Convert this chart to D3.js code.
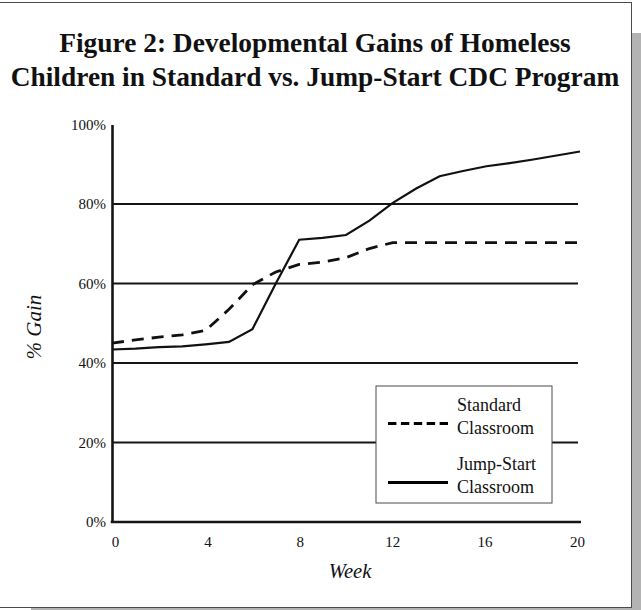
<!DOCTYPE html>
<html>
<head>
<meta charset="utf-8">
<script src="https://cdn.jsdelivr.net/npm/d3@7"></script>
<style>
  html, body { margin: 0; padding: 0; background: #ffffff; }
  svg { display: block; }
  text { font-family: "Liberation Serif", "Times New Roman", serif; fill: #111; }
</style>
</head>
<body>
<svg id="chart" width="641" height="610"></svg>
<script>
// Week numbers on the horizontal axis
const weeks = [0, 1, 2, 3, 4, 5, 6, 7, 8, 9, 10, 11, 12, 13, 14, 15, 16, 17, 18, 19, 20];
// % gain, standard CDC classroom
const standard = [45.0, 45.8, 46.5, 47.1, 48.2, 53.5, 59.7, 62.9, 64.8, 65.4, 66.5, 68.8, 70.3, 70.3, 70.3, 70.3, 70.3, 70.3, 70.3, 70.3, 70.3];
// % gain, Jump-Start classroom
const jumpStart = [43.4, 43.6, 44.0, 44.2, 44.7, 45.3, 48.5, 60.0, 71.0, 71.5, 72.2, 75.8, 80.3, 83.9, 87.0, 88.3, 89.5, 90.3, 91.2, 92.2, 93.2];
// Axis ticks
const xTicks = [0, 4, 8, 12, 16, 20];
const yTicks = [0, 20, 40, 60, 80, 100];
const gridValues = [20, 40, 60, 80];
const titleLines = ["Figure 2: Developmental Gains of Homeless", "Children in Standard vs. Jump-Start CDC Program"];
const legendItems = [
  { lines: ["Standard", "Classroom"], dash: "8.4,4.5" },
  { lines: ["Jump-Start", "Classroom"], dash: null }
];

const svg = d3.select("#chart");

// Page frame with drop shadow
svg.append("rect").attr("x", 31).attr("y", 33).attr("width", 640).attr("height", 600).attr("fill", "#b3b3b3");
svg.append("rect").attr("x", -1).attr("y", 2.5).attr("width", 632.5).attr("height", 605)
  .attr("fill", "#ffffff").attr("stroke", "#4a4a4a").attr("stroke-width", 1);

// Title
svg.append("g").selectAll("text").data(titleLines).join("text")
  .attr("x", 315).attr("y", (d, i) => 52 + i * 33.5)
  .attr("text-anchor", "middle")
  .attr("font-weight", "bold").attr("font-size", 27.4)
  .text(d => d);

// Scales
const x = d3.scaleLinear().domain([0, 20]).range([112, 580]);
const xLabel = d3.scaleLinear().domain([0, 20]).range([115, 577]);
const y = d3.scaleLinear().domain([0, 100]).range([522, 124.5]);

// Horizontal gridlines
svg.append("g").selectAll("line").data(gridValues).join("line")
  .attr("x1", x(0)).attr("x2", 578)
  .attr("y1", d => y(d)).attr("y2", d => y(d))
  .attr("stroke", "#151515").attr("stroke-width", 2.2);

// Axes
const yAxis = svg.append("g").attr("transform", `translate(${x(0)},0)`)
  .call(d3.axisLeft(y).tickValues(yTicks).tickSize(0).tickPadding(6).tickFormat(d => d + "%"));
yAxis.select(".domain").attr("stroke", "#151515").attr("stroke-width", 2.6);
yAxis.selectAll("text").attr("font-size", 15).attr("font-family", "Liberation Serif, serif").attr("fill", "#111").attr("dy", "0.32em");

const xAxis = svg.append("g").attr("transform", `translate(0,${y(0)})`)
  .call(d3.axisBottom(xLabel).tickValues(xTicks).tickSize(0).tickPadding(14).tickFormat(d3.format("d")));
xAxis.select(".domain").remove();
xAxis.selectAll("text").attr("font-size", 15).attr("font-family", "Liberation Serif, serif").attr("fill", "#111");
svg.append("line").attr("x1", x(0) - 1.3).attr("x2", 581)
  .attr("y1", y(0)).attr("y2", y(0))
  .attr("stroke", "#151515").attr("stroke-width", 2.6);

// Axis titles
svg.append("text").attr("x", 350).attr("y", 578).attr("text-anchor", "middle")
  .attr("font-style", "italic").attr("font-size", 20.5).text("Week");
svg.append("text").attr("transform", "translate(41,327) rotate(-90)").attr("text-anchor", "middle")
  .attr("font-style", "italic").attr("font-size", 21).text("% Gain");

// Data lines
const line = d3.line().x(d => x(d[0])).y(d => y(d[1]));
svg.append("path").datum(weeks.map((w, i) => [w, standard[i]]))
  .attr("d", line).attr("fill", "none").attr("stroke", "#111")
  .attr("stroke-width", 2.8).attr("stroke-dasharray", "12,8");
svg.append("path").datum(weeks.map((w, i) => [w, jumpStart[i]]))
  .attr("d", line).attr("fill", "none").attr("stroke", "#111")
  .attr("stroke-width", 2.2);

// Legend
const legend = svg.append("g");
legend.append("rect").attr("x", 376).attr("y", 386).attr("width", 176).attr("height", 117)
  .attr("fill", "#ffffff").attr("stroke", "#4a4a4a").attr("stroke-width", 1);
const items = legend.selectAll("g.item").data(legendItems).join("g").attr("class", "item")
  .attr("transform", (d, i) => `translate(0,${i * 59})`);
items.append("line").attr("x1", 388).attr("x2", 448).attr("y1", 423.5).attr("y2", 423.5)
  .attr("stroke", "#000").attr("stroke-width", 3.2)
  .attr("stroke-dasharray", d => d.dash);
items.each(function(d) {
  d3.select(this).selectAll("text").data(d.lines).join("text")
    .attr("x", 457).attr("y", (t, j) => 411 + j * 22.5)
    .attr("font-size", 18).text(t => t);
});
</script>
</body>
</html>
